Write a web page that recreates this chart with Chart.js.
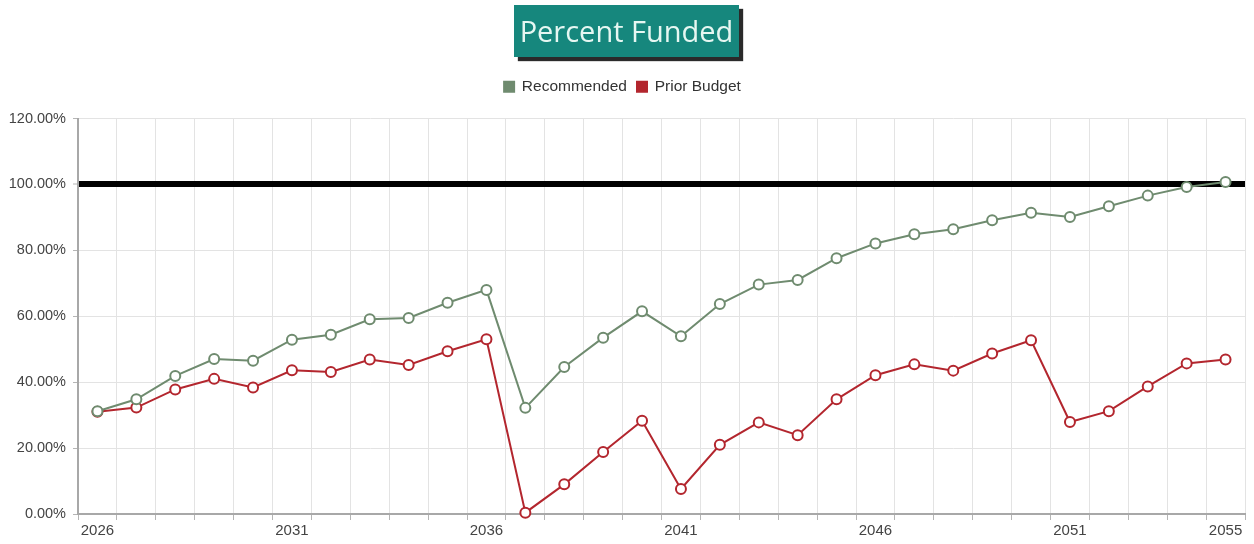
<!DOCTYPE html>
<html>
<head>
<meta charset="utf-8">
<script src="https://cdn.jsdelivr.net/npm/chart.js@4.4.1/dist/chart.umd.min.js"></script>
<style>
  html, body { margin: 0; padding: 0; background: #fff; }
  #wrap { position: relative; width: 1254px; height: 544px; }
  #title {
    position: absolute; left: 514px; top: 5px; width: 225px; height: 52px;
    background: #16877d; color: #e6f7f2;
    font-family: "Open Sans", "Noto Sans", sans-serif; font-size: 29px;
    line-height: 52px; text-align: center;
    box-shadow: 4px 4px 1px #2a2a2a;
  }
  canvas { position: absolute; left: 0; top: 0; }
</style>
</head>
<body>
<div id="wrap">
  <canvas id="c" width="1254" height="544"></canvas>
  <div id="title">Percent Funded</div>
</div>
<script>
const years = [2026,2027,2028,2029,2030,2031,2032,2033,2034,2035,2036,2037,2038,2039,2040,2041,2042,2043,2044,2045,2046,2047,2048,2049,2050,2051,2052,2053,2054,2055];
const recommended = [31.2,34.8,41.9,47.0,46.5,52.9,54.4,59.1,59.5,64.1,68.0,32.2,44.6,53.5,61.5,53.9,63.7,69.6,71.0,77.6,82.1,84.9,86.4,89.1,91.4,90.1,93.4,96.6,99.2,100.7];
const priorBudget = [31.0,32.3,37.8,41.0,38.4,43.6,43.1,46.9,45.2,49.4,53.0,0.4,9.0,18.8,28.3,7.6,21.0,27.8,23.9,34.8,42.1,45.4,43.5,48.7,52.7,27.9,31.2,38.7,45.7,46.9];
const yTicks = [0,20,40,60,80,100,120];
const targetLevel = 100;

const GREEN = '#6f8b6f';
const RED = '#b3262e';
const FONT = '"Liberation Sans", Arial, sans-serif';

const legendMargin = {
  id: 'legendMargin',
  beforeInit(chart) {
    const origFit = chart.legend.fit;
    chart.legend.fit = function () {
      origFit.bind(chart.legend)();
      this.height += 14;
    };
  }
};

new Chart(document.getElementById('c'), {
  type: 'line',
  data: {
    labels: years.map(String),
    datasets: [
      {
        label: 'Recommended', data: recommended,
        borderColor: GREEN, backgroundColor: GREEN,
        borderWidth: 2, tension: 0,
        pointRadius: 5, pointHoverRadius: 5,
        pointBackgroundColor: '#ffffff', pointBorderColor: GREEN, pointBorderWidth: 2
      },
      {
        label: 'Prior Budget', data: priorBudget,
        borderColor: RED, backgroundColor: RED,
        borderWidth: 2, tension: 0,
        pointRadius: 5, pointHoverRadius: 5,
        pointBackgroundColor: '#ffffff', pointBorderColor: RED, pointBorderWidth: 2
      }
    ]
  },
  plugins: [legendMargin],
  options: {
    responsive: false,
    animation: false,
    clip: false,
    layout: { padding: { top: 69, right: 9, bottom: 2, left: 0 } },
    plugins: {
      title: { display: false },
      tooltip: { enabled: false },
      legend: {
        position: 'top',
        labels: {
          boxWidth: 10, boxHeight: 10, padding: 10,
          color: '#333',
          font: { family: FONT, size: 15.5 }
        }
      }
    },
    scales: {
      x: {
        type: 'category',
        offset: true,
        grid: { offset: true, color: '#e3e3e3', lineWidth: 1, tickLength: 6, tickColor: '#b5b5b5', drawOnChartArea: true },
        border: { color: '#a8a8a8', width: 2 },
        ticks: {
          autoSkip: false, maxRotation: 0, minRotation: 0,
          color: '#444', padding: 2,
          font: { family: FONT, size: 15 },
          callback: function (val, idx) {
            return (idx % 5 === 0 || idx === years.length - 1) ? years[idx] : '';
          }
        }
      },
      y: {
        min: 0, max: 120,
        afterBuildTicks: (scale) => { scale.ticks = yTicks.map(v => ({ value: v })); },
        afterFit: (scale) => { scale.width = 78; },
        grid: {
          color: (ctx) => (ctx.tick && ctx.tick.value === targetLevel) ? '#000000' : '#e3e3e3',
          lineWidth: (ctx) => (ctx.tick && ctx.tick.value === targetLevel) ? 6 : 1,
          tickLength: 5, tickColor: '#b5b5b5', tickWidth: 1
        },
        border: { color: '#a8a8a8', width: 2 },
        ticks: {
          color: '#444', padding: 7,
          font: { family: FONT, size: 14.5 },
          callback: (v) => Number(v).toFixed(2) + '%'
        }
      }
    }
  }
});
</script>
</body>
</html>
